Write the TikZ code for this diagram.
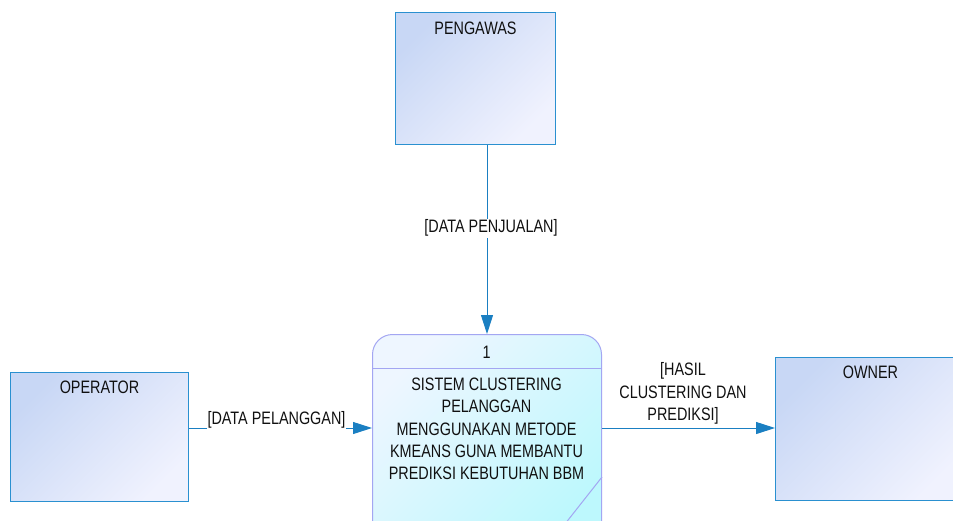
\documentclass[tikz,border=0pt]{standalone}
\usepackage{fontspec}
\setmainfont{Liberation Sans}[FakeStretch=0.8]
\usetikzlibrary{arrows.meta}
\definecolor{edge}{HTML}{2A90D0}
\definecolor{flow}{HTML}{1A7FC2}
\definecolor{entA}{HTML}{C8D7F5}
\definecolor{entB}{HTML}{F0F2FE}
\definecolor{procA}{HTML}{EEF6FF}
\definecolor{procB}{HTML}{BDF8FD}
\definecolor{procEdge}{HTML}{A3A6F2}
\definecolor{ink}{HTML}{101010}
\begin{document}
\begin{tikzpicture}[x=1pt,y=-1pt,
  font=\fontsize{18}{22.3}\selectfont, text=ink,
  entity/.style={draw=edge, line width=1pt, top color=entA, bottom color=entB,
    shading angle=45, anchor=north west, inner sep=0pt},
  process/.style={draw=procEdge, line width=1pt, rounded corners=20pt,
    top color=procA, bottom color=procB, shading angle=45, anchor=north west, inner sep=0pt},
  flowline/.style={draw=flow, line width=1pt, -{Triangle[length=19pt,width=12pt]}},
  flowlabel/.style={fill=white, inner sep=1pt, align=center}]
\useasboundingbox (0,0) rectangle (953,520);
\clip (0,0) rectangle (953,520);
\fill[white] (0,0) rectangle (953,520);

\node[entity, minimum width=160pt, minimum height=132pt,
  label={[anchor=north, yshift=-6pt]north:PENGAWAS}] (pengawas) at (395,12) {};
\node[entity, minimum width=178pt, minimum height=129pt,
  label={[anchor=north, yshift=-5.5pt]north:OPERATOR}] (operator) at (10,372) {};
\node[entity, minimum width=190pt, minimum height=143pt,
  label={[anchor=north, yshift=-5.5pt]north:OWNER}] (owner) at (775,357) {};

\node[process, minimum width=229pt, minimum height=210pt] (proc) at (372,334) {};
\draw[procEdge, line width=1pt] ([yshift=-34pt]proc.north west) -- ([yshift=-34pt]proc.north east);
\coordinate (diagA) at ([yshift=-143pt]proc.north east);
\coordinate (diagB) at ([xshift=-41pt,yshift=-52pt]diagA);
\draw[procEdge, line width=1pt] (diagA) -- (diagB);
\node (num) at (486.5,352) {1};
\node[align=center] (ptext) at (486.5,429) {SISTEM CLUSTERING\\PELANGGAN\\MENGGUNAKAN METODE\\KMEANS GUNA MEMBANTU\\PREDIKSI KEBUTUHAN BBM};

\coordinate (flowy) at (0,428);
\draw[flowline] (pengawas.south -| proc.north) -- node[flowlabel, pos=0.44, xshift=4pt] {[DATA PENJUALAN]} (proc.north);
\draw[flowline] (operator.east |- flowy) -- node[flowlabel, yshift=8pt, xshift=-4pt] {[DATA PELANGGAN]} (proc.west |- flowy);
\draw[flowline] (proc.east |- flowy) -- (owner.west |- flowy);
\node[align=center] (hasil) at (683,393.5) {[HASIL\\CLUSTERING DAN\\PREDIKSI]};
\end{tikzpicture}
\end{document}
